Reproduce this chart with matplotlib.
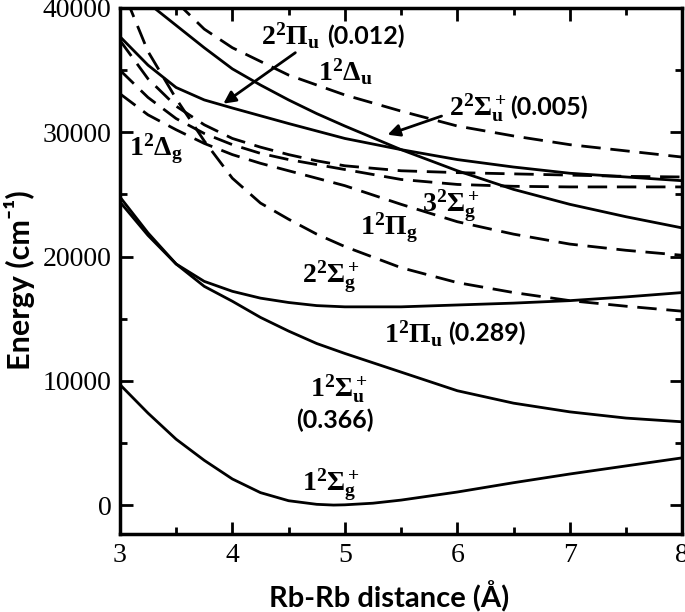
import numpy as np
import matplotlib
matplotlib.use("Agg")
import matplotlib.pyplot as plt
from matplotlib.ticker import MultipleLocator

plt.rcParams['mathtext.fontset'] = 'custom'
plt.rcParams['mathtext.rm'] = 'Liberation Serif'
plt.rcParams['mathtext.bf'] = 'Liberation Serif:bold'
plt.rcParams['mathtext.it'] = 'Liberation Serif:italic'

# potential curves (R in angstrom, E in cm^-1)
r = [3.0, 3.25, 3.5, 3.75, 4.0, 4.25, 4.5, 4.75, 5.0, 5.5, 6.0, 6.5, 7.0, 7.5, 8.0]

x_sg1 = [3.0, 3.25, 3.5, 3.75, 4.0, 4.25, 4.5, 4.75, 4.9, 5.0, 5.25, 5.5, 6.0, 6.5, 7.0, 7.5, 8.0]
e_sg1 = [9700, 7400, 5300, 3600, 2100, 1000, 350, 60, 0, 20, 150, 400, 1050, 1800, 2500, 3150, 3800]
e_su1 = [24800, 21900, 19400, 17600, 16400, 15100, 14000, 13000, 12200, 10700, 9200, 8200, 7500, 7000, 6700]
e_pu1 = [24400, 21700, 19400, 18000, 17200, 16650, 16300, 16050, 15950, 15950, 16100, 16250, 16450, 16750, 17100]
r_pu2 = [3.0, 3.25, 3.5, 3.75, 4.0, 4.5, 5.0, 5.5, 6.0, 6.5, 7.0, 7.5, 8.0]
e_pu2 = [37700, 35400, 33600, 32600, 31950, 30700, 29500, 28600, 27800, 27200, 26700, 26400, 26100]
r_su2 = [3.25, 3.5, 3.75, 4.0, 4.25, 4.5, 4.75, 5.0, 5.5, 6.0, 6.5, 7.0, 7.5, 8.0]
e_su2 = [40400, 38600, 36800, 35100, 33800, 32600, 31500, 30500, 28600, 26900, 25400, 24200, 23200, 22300]

r_du1 = [3.5, 3.75, 4.0, 4.5, 5.0, 5.5, 6.0, 6.5, 7.0, 7.5, 8.0]
e_du1 = [40500, 38300, 36800, 34600, 33000, 31700, 30500, 29700, 29000, 28500, 28000]
e_sg2 = [42000, 36500, 32700, 29300, 26300, 24300, 23000, 21800, 20800, 19100, 17900, 17100, 16450, 16000, 15600]
e_dg1 = [37400, 34300, 32100, 30600, 29500, 28800, 28200, 27700, 27300, 26900, 26750, 26650, 26550, 26450, 26400]
e_sg3 = [35000, 32800, 31100, 29900, 29000, 28300, 27800, 27400, 27000, 26200, 25800, 25650, 25600, 25600, 25600]
e_pg1 = [33100, 31400, 30200, 29100, 28200, 27500, 26900, 26300, 25700, 24200, 22800, 21800, 21000, 20500, 20100]

# state labels (right edge, centre) and transition strengths
states = [r'$\mathbf{2^2\Pi_u}$', r'$\mathbf{1^2\Delta_u}$', r'$\mathbf{2^2\Sigma_u^+}$',
          r'$\mathbf{1^2\Delta_g}$', r'$\mathbf{3^2\Sigma_g^+}$', r'$\mathbf{1^2\Pi_g}$',
          r'$\mathbf{2^2\Sigma_g^+}$', r'$\mathbf{1^2\Pi_u}$', r'$\mathbf{1^2\Sigma_u^+}$',
          r'$\mathbf{1^2\Sigma_g^+}$']
state_x = [4.78, 5.25, 6.44, 3.56, 6.20, 5.65, 5.135, 5.87, 5.20, 5.135]
state_y = [37740, 34880, 32020, 28630, 24110, 22340, 18390, 13790, 9355, 1613]
strengths = ['(0.012)', '(0.005)', '(0.289)', '(0.366)']
strength_x = [4.84, 6.47, 5.92, 4.913]
strength_y = [37740, 32020, 13790, 6855]

fig = plt.figure(figsize=(6.85, 6.12), dpi=100)
ax = fig.add_axes([0.175, 0.127, 0.821, 0.86])

solid = dict(color='black', lw=2.0)
dashed = dict(color='black', lw=2.0, dashes=(7, 3.5))

ax.plot(x_sg1, e_sg1, **solid)
ax.plot(r, e_su1, **solid)
ax.plot(r, e_pu1, **solid)
ax.plot(r_pu2, e_pu2, **solid)
ax.plot(r_su2, e_su2, **solid)

ax.plot(r_du1, e_du1, **dashed)
ax.plot(r, e_sg2, **dashed)
ax.plot(r, e_dg1, **dashed)
ax.plot(r, e_sg3, **dashed)
ax.plot(r, e_pg1, **dashed)

for s, x, y in zip(states, state_x, state_y):
    ax.text(x, y, s, fontsize=20, ha='right', va='center')
for i, (s, x, y) in enumerate(zip(strengths, strength_x, strength_y)):
    ax.text(x, y, s, fontsize=18, fontweight='bold', family='Lato',
            ha='center' if i == 3 else 'left', va='center')

arrow = dict(arrowstyle='-|>', color='black', lw=2, mutation_scale=18, shrinkA=0, shrinkB=0)
ax.annotate('', xy=(3.92, 32300), xytext=(4.56, 36400), arrowprops=arrow)
ax.annotate('', xy=(5.38, 29800), xytext=(5.86, 31300), arrowprops=arrow)

ax.set_xlim(3, 8)
ax.set_ylim(-2350, 40000)
ax.xaxis.set_major_locator(MultipleLocator(1))
ax.xaxis.set_minor_locator(MultipleLocator(0.5))
ax.yaxis.set_major_locator(MultipleLocator(10000))
ax.yaxis.set_minor_locator(MultipleLocator(5000))
ax.tick_params(which='both', direction='in', top=True, right=True, width=2)
ax.tick_params(which='major', length=9, labelsize=20, pad=6)
ax.tick_params(which='minor', length=5)
for lbl in ax.get_xticklabels() + ax.get_yticklabels():
    lbl.set_family('Liberation Serif')
for s in ax.spines.values():
    s.set_linewidth(2.5)

ax.set_xlabel('Rb-Rb distance (Å)', fontsize=21, fontweight='bold', family='Lato', va='center')
ax.set_ylabel('Energy (cm⁻¹)', fontsize=22, fontweight='bold', family=['Lato', 'DejaVu Sans'],
              va='center', ha='center')
ax.xaxis.set_label_coords(0.479, -0.118)
ax.yaxis.set_label_coords(-0.178, 0.482)

fig.savefig('out.png', dpi=100)
